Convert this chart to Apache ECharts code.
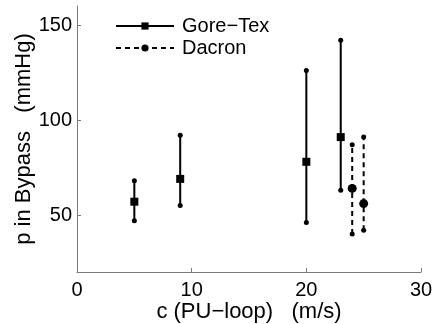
<!DOCTYPE html>
<html><head><meta charset="utf-8">
<script src="https://cdn.jsdelivr.net/npm/echarts@6/dist/echarts.min.js"></script>
<style>html,body{margin:0;padding:0;background:#fff}#c{width:433px;height:324px}</style>
</head><body><div id="c"></div>
<script>
const goreX = [5, 9, 20, 23];
const goreMean = [57, 69, 78, 91];
const goreMin = [47, 55, 46, 63];
const goreMax = [68, 92, 126, 142];
const dacX = [24, 25];
const dacMean = [64, 56];
const dacMin = [40, 42];
const dacMax = [87, 91];
const xTicks = [0, 10, 20, 30];
const yTicks = [50, 100, 150];

const FONT = 'Liberation Sans';
function bars(name, xs, mean, lo, hi, sym, size, dash) {
  return xs.map((x, i) => ({
    type: 'line', name: name,
    data: [
      {value: [x, lo[i]], symbol: 'circle', symbolSize: 5},
      {value: [x, mean[i]]},
      {value: [x, hi[i]], symbol: 'circle', symbolSize: 5}
    ],
    symbol: sym, symbolSize: size, showSymbol: true, showAllSymbol: true,
    lineStyle: {color: '#000', width: 2, type: dash, dashOffset: 0},
    itemStyle: {color: '#000', borderWidth: 0},
    emphasis: {disabled: true},
    animation: false
  }));
}
const series = [].concat(
  bars('Gore−Tex', goreX, goreMean, goreMin, goreMax, 'rect', 8, 'solid'),
  bars('Dacron', dacX, dacMean, dacMin, dacMax, 'circle', 9, [5, 4])
);
const chart = echarts.init(document.getElementById('c'), null, {renderer: 'canvas'});
chart.setOption({
  animation: false,
  textStyle: {fontFamily: FONT},
  grid: {left: 77, right: 12, top: 6, bottom: 52, containLabel: false, outerBoundsMode: 'none'},
  legend: {
    data: ['Gore−Tex', 'Dacron'], orient: 'vertical', left: 110, top: 10,
    itemWidth: 58, itemHeight: 9, itemGap: 0,
    textStyle: {fontFamily: FONT, fontSize: 20, color: '#000', lineHeight: 22, padding: [0, 0, 0, 3]},
    selectedMode: false
  },
  xAxis: {
    type: 'value', min: 0, max: 30, interval: 10,
    name: 'c (PU−loop)   (m/s)', nameLocation: 'middle', nameGap: 29, nameMoveOverlap: false,
    nameTextStyle: {fontFamily: FONT, fontSize: 22, color: '#000'},
    axisLine: {show: true, onZero: false, lineStyle: {color: '#7a7a7a', width: 1}},
    axisTick: {show: true, inside: true, length: 4, lineStyle: {color: '#7a7a7a'}, customValues: xTicks},
    axisLabel: {fontFamily: FONT, fontSize: 20, color: '#000', margin: 8, customValues: xTicks},
    splitLine: {show: false}
  },
  yAxis: {
    type: 'value', min: 20, max: 160,
    name: 'p in Bypass   (mmHg)', nameLocation: 'middle', nameGap: 42, nameMoveOverlap: false,
    nameTextStyle: {fontFamily: FONT, fontSize: 22, color: '#000'},
    axisLine: {show: true, onZero: false, lineStyle: {color: '#7a7a7a', width: 1}},
    axisTick: {show: true, inside: true, length: 4, lineStyle: {color: '#7a7a7a'}, customValues: yTicks},
    axisLabel: {fontFamily: FONT, fontSize: 20, color: '#000', margin: 5, customValues: yTicks},
    splitLine: {show: false}
  },
  series: series
});
</script></body></html>
